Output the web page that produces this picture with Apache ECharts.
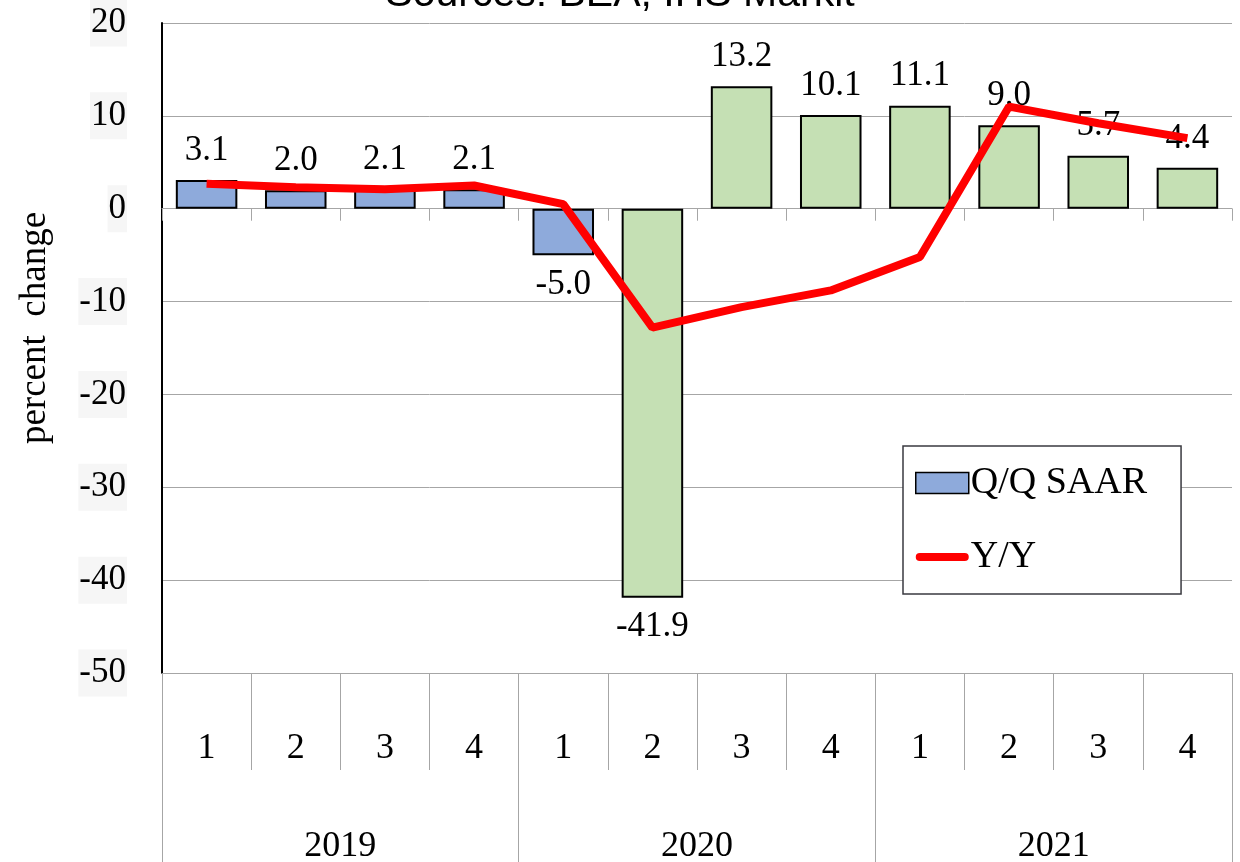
<!DOCTYPE html>
<html>
<head>
<meta charset="utf-8">
<script src="https://cdn.jsdelivr.net/npm/echarts@6/dist/echarts.min.js"></script>
<style>
  html, body { margin: 0; padding: 0; background: #fff; }
  #chart { width: 1240px; height: 862px; }
</style>
</head>
<body>
<div id="chart"></div>
<script>
// quarters and years for the two-level category axis
var quarters = ['1', '2', '3', '4', '1', '2', '3', '4', '1', '2', '3', '4'];
var years = ['2019', '2020', '2021'];
// Q/Q SAAR (bars) and Y/Y (line), percent change
var qqSaar = [3.1, 2.0, 2.1, 2.1, -5.0, -41.9, 13.2, 10.1, 11.1, 9.0, 5.7, 4.4];
var yy = [2.7, 2.3, 2.1, 2.5, 0.5, -12.8, -10.6, -8.8, -5.2, 11.0, 9.2, 7.6];
var yTicks = [-50, -40, -30, -20, -10, 0, 10, 20];

var serif = '"Liberation Serif", "Times New Roman", serif';
var gridGray = '#a6a6a6';
var blue = '#8eaadb';
var green = '#c5e0b4';

// full period names, used only by the hidden base axis
var periods = quarters.map(function (q, i) {
    return years[Math.floor(i / 4)] + 'Q' + q;
});

var barData = qqSaar.map(function (v) {
    if (v < 0) {
        return { value: v, label: { position: 'bottom' } };
    }
    return v;
});

var myChart = echarts.init(document.getElementById('chart'));
var option = {
    animation: false,
    title: {
        text: 'Sources: BEA, IHS Markit',
        left: 'center',
        top: -31,
        textStyle: { fontFamily: '"Liberation Sans", Arial, sans-serif', fontSize: 41, fontWeight: 'normal', color: '#000' }
    },
    grid: { left: 162, right: 8, top: 23, bottom: 189, outerBoundsMode: 'none' },
    legend: {
        orient: 'vertical',
        left: 903,
        top: 446,
        padding: [17, 34, 17, 12],
        itemGap: 34,
        itemWidth: 53,
        itemHeight: 21,
        backgroundColor: '#fff',
        borderColor: '#3a3a40',
        borderWidth: 1.5,
        borderRadius: 0,
        textStyle: { fontFamily: serif, fontSize: 38, color: '#000', padding: [0, 0, 0, -3], lineHeight: 40 },
        data: [
            { name: 'Q/Q SAAR', icon: 'rect', itemStyle: { color: blue, borderColor: '#000', borderWidth: 1.5 } },
            { name: 'Y/Y', icon: 'path://M4,0 L49,0 A4,4 0 0 1 49,8 L4,8 A4,4 0 0 1 4,0 Z', itemStyle: { color: '#ff0000' } }
        ]
    },
    xAxis: [
        {
            // zero line with short ticks
            type: 'category',
            data: periods,
            position: 'bottom',
            axisLine: { onZero: true, lineStyle: { color: gridGray, width: 1 } },
            axisTick: { show: true, length: 12, interval: 0, lineStyle: { color: gridGray, width: 1 } },
            axisLabel: { show: false }
        },
        {
            type: 'category',
            data: quarters,
            position: 'bottom',
            axisLine: { onZero: false, lineStyle: { color: gridGray, width: 1 } },
            axisTick: { show: true, length: 97, interval: 0, lineStyle: { color: gridGray, width: 1 } },
            axisLabel: { interval: 0, margin: 58, fontFamily: serif, fontSize: 36, color: '#000' }
        },
        {
            type: 'category',
            data: years,
            position: 'bottom',
            offset: 97,
            axisLine: { show: false, onZero: false },
            axisTick: { show: true, length: 100, interval: 0, lineStyle: { color: gridGray, width: 1 } },
            axisLabel: { interval: 0, margin: 59, fontFamily: serif, fontSize: 36, color: '#000' }
        }
    ],
    yAxis: {
        type: 'value',
        min: yTicks[0],
        max: yTicks[yTicks.length - 1],
        interval: 10,
        name: 'percent  change',
        nameLocation: 'middle',
        nameGap: 108,
        nameTextStyle: { fontFamily: serif, fontSize: 37, color: '#000', padding: [0, 0, 0, 40] },
        axisLine: { show: true, lineStyle: { color: '#000', width: 2 } },
        axisTick: { show: false },
        axisLabel: {
            margin: 35,
            fontFamily: serif,
            fontSize: 35,
            color: '#000',
            backgroundColor: '#f6f6f6',
            padding: [6, 1, 6, 1]
        },
        splitLine: { lineStyle: { color: gridGray, width: 1 } }
    },
    series: [
        {
            name: 'Q/Q SAAR',
            type: 'bar',
            xAxisIndex: 0,
            data: barData,
            barCategoryGap: '31%',
            itemStyle: {
                color: function (p) { return p.dataIndex < 5 ? blue : green; },
                borderColor: '#000',
                borderWidth: 2
            },
            label: {
                show: true,
                position: 'top',
                distance: 12,
                fontFamily: serif,
                fontSize: 35,
                color: '#000',
                formatter: function (p) { return p.value.toFixed(1); }
            },
            z: 2
        },
        {
            name: 'Y/Y',
            type: 'line',
            xAxisIndex: 0,
            data: yy,
            symbol: 'none',
            lineStyle: { color: '#ff0000', width: 8 },
            itemStyle: { color: '#ff0000' },
            z: 3
        }
    ]
};
myChart.setOption(option);
</script>
</body>
</html>
